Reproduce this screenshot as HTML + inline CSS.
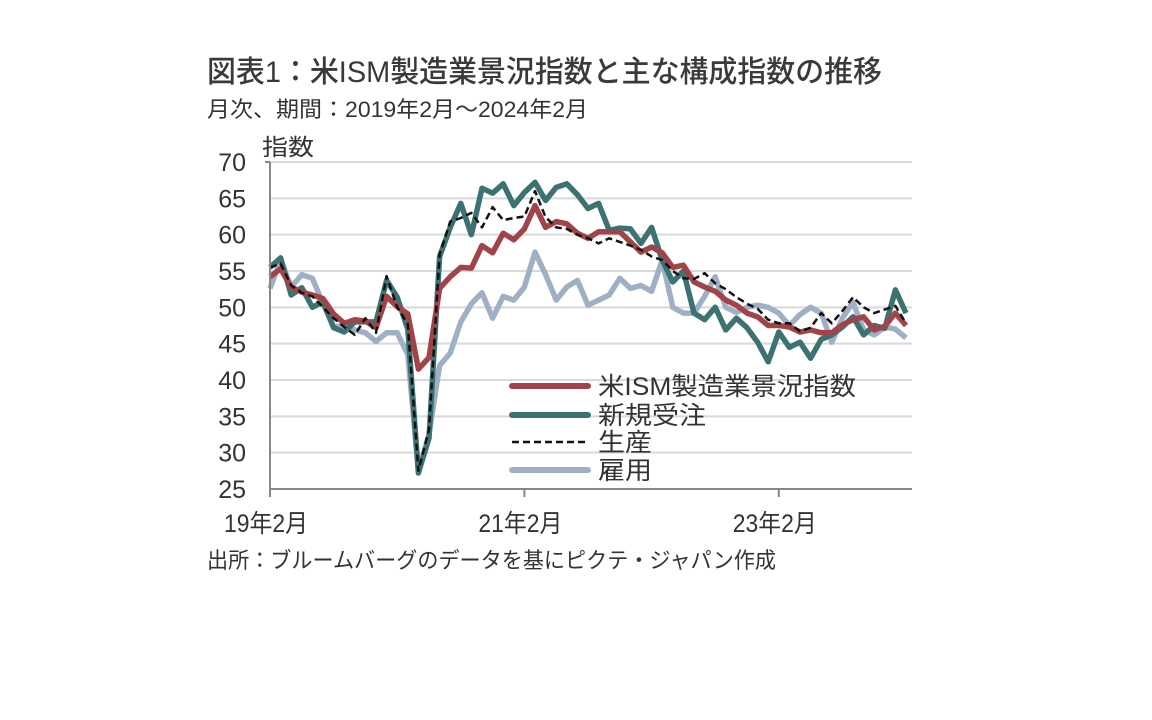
<!DOCTYPE html>
<html><head><meta charset="utf-8"><style>
html,body{margin:0;padding:0;background:#fff;width:1152px;height:720px;overflow:hidden}
svg{display:block}
text{font-family:"Liberation Sans","Noto Sans CJK JP",sans-serif;fill:#333}
</style></head><body>
<svg id="chart" width="1152" height="720" viewBox="0 0 1152 720">
<text x="207" y="82" font-size="30" textLength="675" lengthAdjust="spacingAndGlyphs" font-weight="500" style="fill:#3a3a3a">図表1：米ISM製造業景況指数と主な構成指数の推移</text>
<text x="207" y="117" font-size="22" textLength="381" lengthAdjust="spacingAndGlyphs">月次、期間：2019年2月～2024年2月</text>
<text x="262" y="155" font-size="23" textLength="52" lengthAdjust="spacingAndGlyphs">指数</text>
<g id="grid"></g>
<g id="series"></g>
<g id="axes"></g>
<g>
<line x1="512" y1="386" x2="588" y2="386" stroke="#a0444a" stroke-width="6" stroke-linecap="round"/>
<text x="598" y="395" font-size="25" textLength="258" lengthAdjust="spacingAndGlyphs">米ISM製造業景況指数</text>
<line x1="512" y1="415" x2="588" y2="415" stroke="#3d7272" stroke-width="6" stroke-linecap="round"/>
<text x="598" y="424" font-size="25" textLength="108" lengthAdjust="spacingAndGlyphs">新規受注</text>
<line x1="512" y1="442" x2="588" y2="442" stroke="#111" stroke-width="2.5" stroke-dasharray="7,4"/>
<text x="598" y="451" font-size="25" textLength="54" lengthAdjust="spacingAndGlyphs">生産</text>
<line x1="512" y1="470" x2="588" y2="470" stroke="#9fb0c4" stroke-width="6" stroke-linecap="round"/>
<text x="598" y="479" font-size="25" textLength="54" lengthAdjust="spacingAndGlyphs">雇用</text>
</g>
<text x="207" y="568" font-size="22" textLength="569" lengthAdjust="spacingAndGlyphs">出所：ブルームバーグのデータを基にピクテ・ジャパン作成</text>
</svg>
<script>
const ism=[54.2,55.3,52.8,52.1,51.7,51.2,49.1,47.8,48.3,48.1,47.2,51.5,50.1,49.1,41.5,43.1,52.6,54.2,55.5,55.4,58.5,57.5,60.2,59.3,60.8,64.0,61.0,61.8,61.5,60.2,59.5,60.4,60.4,60.4,59.0,57.6,58.3,57.5,55.5,55.8,53.5,52.8,52.2,51.0,50.3,49.2,48.7,47.5,47.5,47.3,46.6,46.9,46.5,46.5,47.6,48.3,48.7,46.9,47.4,49.2,47.5];
const newOrders=[55.5,56.8,51.7,52.7,50.0,50.8,47.2,46.6,48.0,48.0,48.0,53.7,51.4,47.0,27.2,32.0,57.0,61.0,64.3,60.0,66.4,65.7,67.0,64.0,65.8,67.2,64.7,66.5,67.0,65.5,63.6,64.3,60.6,60.9,60.8,58.8,61.0,56.5,53.5,55.0,49.2,48.3,50.0,46.9,48.5,47.2,45.2,42.5,46.6,44.5,45.2,43.0,45.6,46.2,47.3,48.7,46.2,47.5,47.1,52.4,49.2];
const production=[55.5,56.0,53.0,52.0,51.5,50.0,48.5,47.3,46.2,48.5,46.5,54.3,50.0,47.7,27.5,33.2,57.3,61.8,62.3,63.0,61.0,63.8,62.0,62.3,62.5,66.0,62.4,61.0,60.8,60.0,59.5,58.8,59.5,59.0,58.5,57.9,57.0,56.5,55.0,54.0,53.9,54.7,53.3,52.5,51.4,50.5,49.8,48.3,47.8,47.8,46.7,47.2,49.2,47.8,49.5,51.4,50.0,49.2,49.7,50.2,47.8];
const employment=[52.6,56.5,52.8,54.5,54.0,50.5,47.3,47.5,46.9,46.5,45.3,46.5,46.5,43.5,27.5,32.5,42.0,43.7,48.0,50.5,52.0,48.5,51.5,51.0,52.8,57.6,54.5,51.0,52.8,53.7,50.3,51.0,51.7,54.0,52.6,53.0,52.2,56.5,50.0,49.2,49.2,51.5,54.2,50.0,49.3,50.0,50.3,50.0,49.2,47.5,49.0,50.0,49.2,45.2,48.5,50.7,46.9,46.2,47.3,47.0,45.8];
const yTicks=[25,30,35,40,45,50,55,60,65,70];
const xTickLabels=["19年2月","21年2月","23年2月"];
const xTickIdx=[0,24,48];

const X0=270,X1=912,Y0=489,Y1=162,ymin=25,ymax=70,nMonths=60,xEndPx=906;
const xs=i=>X0+i*(xEndPx-X0)/nMonths;
const ys=v=>Y0-(v-ymin)*(Y0-Y1)/(ymax-ymin);
const NS="http://www.w3.org/2000/svg";
function mk(tag,attrs,parent){const e=document.createElementNS(NS,tag);for(const k in attrs)e.setAttribute(k,attrs[k]);parent.appendChild(e);return e;}
const grid=document.getElementById('grid'),axes=document.getElementById('axes'),ser=document.getElementById('series');
yTicks.forEach(v=>{
 if(v>ymin){const g=mk('line',{x1:X0,x2:X1,y1:ys(v),y2:ys(v),stroke:'#d9d9d9','stroke-width':2},grid);
 
 }
 const t=mk('text',{x:246,y:ys(v)+9,'font-size':25,'text-anchor':'end'},axes);
 t.textContent=v;
 
 
});
const ya=mk('line',{x1:X0,x2:X0,y1:Y1,y2:Y0,stroke:'#888','stroke-width':2},axes);


const xa=mk('line',{x1:X0,x2:X1,y1:Y0,y2:Y0,stroke:'#888','stroke-width':2},axes);


mk('line',{x1:X0-5,x2:X0,y1:Y1,y2:Y1,stroke:'#888','stroke-width':2},axes);
xTickIdx.forEach((i,k)=>{
 mk('line',{x1:xs(i),x2:xs(i),y1:Y0,y2:Y0+8,stroke:'#888','stroke-width':2},axes);
 const t=mk('text',{x:xs(i)-4,y:532,'font-size':25,'text-anchor':'middle',textLength:84,lengthAdjust:'spacingAndGlyphs'},axes);
 t.textContent=xTickLabels[k];
 
 
});
function drawLine(arr,name,attrs){
 const d=arr.map((v,i)=>(i?'L':'M')+xs(i).toFixed(1)+','+ys(v).toFixed(1)).join('');
 const p=mk('path',Object.assign({d:d,fill:'none','stroke-linejoin':'round'},attrs),ser);
 
 
}
drawLine(employment,'employment-line',{stroke:'#9fb0c4','stroke-width':5.5});
drawLine(newOrders,'new-orders-line',{stroke:'#3d7272','stroke-width':5.5});
drawLine(ism,'ism-line',{stroke:'#a0444a','stroke-width':5.5});
drawLine(production,'production-line',{stroke:'#111','stroke-width':2.5,'stroke-dasharray':'7,4'});
</script>
</body></html>
